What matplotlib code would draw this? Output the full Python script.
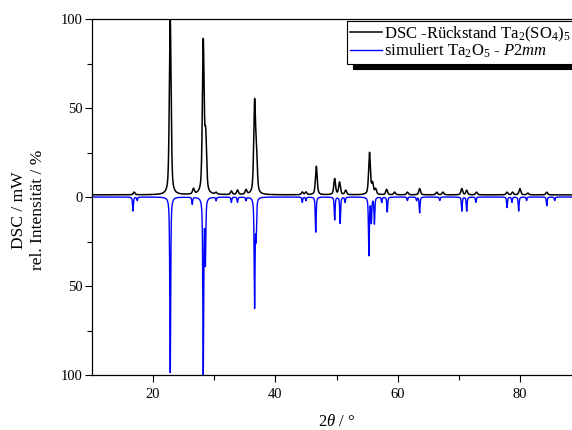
import numpy as np
import matplotlib
matplotlib.use("Agg")
import matplotlib.pyplot as plt

plt.rcParams["font.family"] = ["Liberation Serif", "DejaVu Serif"]
plt.rcParams["mathtext.fontset"] = "custom"
plt.rcParams["mathtext.rm"] = "Liberation Serif"
plt.rcParams["mathtext.it"] = "Liberation Serif:italic"

# Measured residue pattern: reflection positions (2theta, deg) and heights (%)
meas_pos = [16.9, 22.8, 26.6, 28.2, 28.6, 30.3, 32.8, 33.8, 35.2, 36.6, 36.9,
            44.4, 45.0, 46.7, 49.7, 50.5, 51.5, 55.4, 55.9, 56.4, 58.2, 59.5,
            61.6, 63.6, 66.4, 67.4, 70.5, 71.3, 72.9, 77.9, 78.8, 80.0, 81.3, 84.4]
meas_h = [1.5, 98.8, 3, 85, 30, 1, 2, 2.5, 2.5, 50, 21, 1.5, 1.5, 16, 9, 7,
          2.5, 23.5, 6, 3, 3, 1.5, 1.5, 3.5, 1.5, 1.5, 3.5, 2.5, 1.5, 1.5,
          1.5, 3.5, 1, 1.5]
meas_baseline = 1.2

# Simulated Ta2O5 (P2mm) pattern
sim_pos = [16.7, 17.4, 22.8, 26.4, 28.2, 28.55, 30.3, 32.8, 33.8, 35.2, 36.6,
           36.85, 44.4, 45.0, 46.6, 49.7, 50.6, 51.4, 55.3, 55.7, 56.2, 57.4,
           58.3, 61.6, 63.1, 63.6, 66.9, 70.5, 71.3, 72.8, 77.9, 78.7, 79.8,
           81.1, 84.4, 85.7]
sim_h = [8, 2, 100, 4, 100, 36, 2, 3, 3, 2, 62, 22, 3, 2, 20, 13, 15, 3, 33,
         14, 15, 3, 8.5, 2, 2, 9, 2, 8, 8, 3, 6, 3, 8, 2, 5, 2]

x_ticks = [20, 40, 60, 80]
y_ticks = [-100, -50, 0, 50, 100]
y_ticklabels = ["100", "50", "0", "50", "100"]


def pseudo_voigt(tt, pos, height, fwhm, eta):
    y = np.zeros_like(tt)
    for p, h in zip(pos, height):
        d = (tt - p) / (fwhm / 2)
        lor = 1.0 / (1.0 + d ** 2)
        gau = np.exp(-np.log(2) * d ** 2)
        y += h * (eta * lor + (1 - eta) * gau)
    return y


tt = np.linspace(10, 90, 8001)
meas = meas_baseline + pseudo_voigt(tt, meas_pos, meas_h, 0.34, 0.55)
sim = pseudo_voigt(tt, sim_pos, sim_h, 0.17, 0.65)
sim = sim / sim.max() * 100

fig = plt.figure(figsize=(5.72, 4.30), dpi=100)
ax = fig.add_axes([92 / 572, 1 - 375 / 430, 489 / 572, 356 / 430])

ax.plot(tt, meas, color="black", lw=1.1, label=r"DSC -Rückstand Ta$_2$(SO$_4$)$_5$")
ax.plot(tt, -sim, color="#0000ff", lw=1.0, label=r"simuliert Ta$_2$O$_5$ - $\it{P2mm}$")

ax.set_xlim(10, 90)
ax.set_ylim(-100, 100)
ax.set_xticks(x_ticks)
ax.set_xticks([30, 50, 70, 90], minor=True)
ax.set_yticks(y_ticks)
ax.set_yticklabels(y_ticklabels)
ax.set_yticks([-75, -25, 25, 75], minor=True)
ax.tick_params(which="major", direction="out", length=5, width=0.8, labelsize=10.5)
ax.tick_params(axis="x", which="major", pad=4)
ax.tick_params(axis="y", which="major", pad=2)
ax.tick_params(which="minor", direction="out", length=3.5, width=0.8)
for s in ax.spines.values():
    s.set_linewidth(0.9)

ax.set_xlabel(r"2$\it{\theta}$ / °", fontsize=12, labelpad=10)
fig.text(19 / 572, 1 - 210 / 430, "DSC / mW", rotation=90, fontsize=12.5,
         ha="center", va="center")
fig.text(38 / 572, 1 - 210 / 430, "rel. Intensität / %", rotation=90, fontsize=12.5,
         ha="center", va="center")

leg = ax.legend(loc="upper left", bbox_to_anchor=(347 / 572, 1 - 21 / 430),
                bbox_transform=fig.transFigure, borderaxespad=0, fontsize=12,
                handlelength=1.9, handletextpad=0.1, borderpad=0.2,
                labelspacing=-0.1, fancybox=False, framealpha=1,
                edgecolor="black",
                shadow={"ox": 4, "oy": -4, "color": "black", "alpha": 1})
leg.get_frame().set_linewidth(0.8)

fig.savefig("out.png", dpi=100)
